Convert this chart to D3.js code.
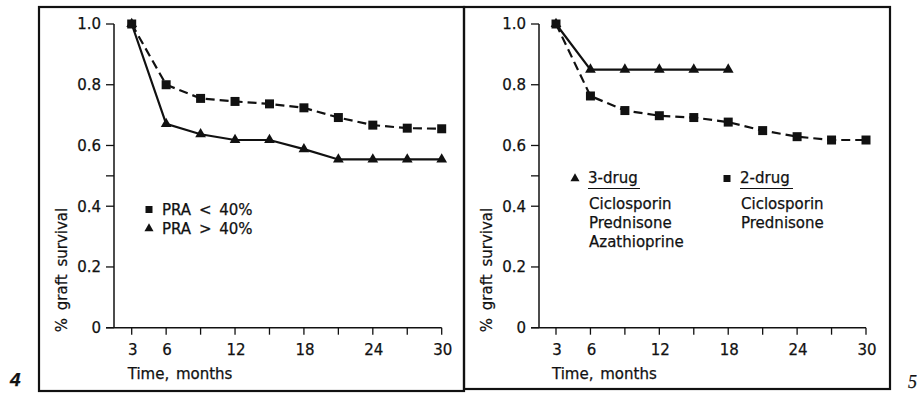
<!DOCTYPE html>
<html>
<head>
<meta charset="utf-8">
<script src="https://cdn.jsdelivr.net/npm/d3@7"></script>
<style>
  html, body { margin: 0; padding: 0; background: #fff; }
  svg { display: block; }
  text { font-family: "DejaVu Sans", sans-serif; fill: #111; stroke: #111; stroke-width: 0.25px; }
</style>
</head>
<body>
<svg id="chart" width="917" height="396"></svg>
<script>
// Data (graft survival by month)
const months = [3, 6, 9, 12, 15, 18, 21, 24, 27, 30];
const praLow = [1.0, 0.80, 0.755, 0.745, 0.737, 0.724, 0.692, 0.667, 0.657, 0.655];
const praHigh = [1.0, 0.671, 0.637, 0.618, 0.618, 0.588, 0.554, 0.554, 0.554, 0.554];
const monthsThreeDrug = [3, 6, 9, 12, 15, 18];
const threeDrug = [1.0, 0.85, 0.85, 0.85, 0.85, 0.85];
const twoDrug = [1.0, 0.763, 0.715, 0.698, 0.692, 0.677, 0.649, 0.629, 0.618, 0.618];

const xTicks = [3, 6, 9, 12, 15, 18, 21, 24, 27, 30];
const xTickLabels = [3, 6, 12, 18, 24, 30];
const yTicks = [0, 0.2, 0.4, 0.5, 0.6, 0.8, 1.0];
const yTickLabels = ["0", "0.2", "0.4", "", "0.6", "0.8", "1.0"];

const yTitle = "% graft survival";
const xTitle = "Time, months";

const svg = d3.select("#chart");

// Frames round the two figures
svg.append("rect")
    .attr("x", 39).attr("y", 7).attr("width", 425).attr("height", 384)
    .attr("fill", "none").attr("stroke", "#111").attr("stroke-width", 2.2);
svg.append("rect")
    .attr("x", 464).attr("y", 7).attr("width", 426).attr("height", 382)
    .attr("fill", "none").attr("stroke", "#111").attr("stroke-width", 2.2);

// Figure numbers
svg.append("text").attr("x", 10).attr("y", 386)
    .style("font-family", "Liberation Sans, sans-serif")
    .style("font-style", "italic").style("font-weight", "bold")
    .style("font-size", "19px").text("4");
svg.append("text").attr("x", 908).attr("y", 388)
    .style("font-family", "Liberation Serif, serif")
    .style("font-style", "italic")
    .style("font-size", "18px").text("5");

// Draws axes for one panel and returns its scales
function drawPanel(axisX, x0, x1) {
    const x = d3.scaleLinear().domain([3, 30]).range([x0, x1]);
    const y = d3.scaleLinear().domain([0, 1]).range([327.7, 24]);
    const g = svg.append("g");

    // y axis
    g.append("line")
        .attr("x1", axisX).attr("x2", axisX)
        .attr("y1", y(0)).attr("y2", y(1))
        .attr("stroke", "#111").attr("stroke-width", 1.5);
    yTicks.forEach((v, i) => {
        g.append("line")
            .attr("x1", axisX - 8).attr("x2", axisX)
            .attr("y1", y(v)).attr("y2", y(v))
            .attr("stroke", "#111").attr("stroke-width", 1.3);
        if (yTickLabels[i]) {
            g.append("text")
                .attr("x", axisX - 13).attr("y", y(v))
                .attr("dy", "0.36em")
                .attr("text-anchor", "end")
                .style("font-size", "15px")
                .text(yTickLabels[i]);
        }
    });

    // x axis
    g.append("line")
        .attr("x1", axisX - 8).attr("x2", x(30))
        .attr("y1", y(0)).attr("y2", y(0))
        .attr("stroke", "#111").attr("stroke-width", 1.5);
    xTicks.forEach(v => {
        g.append("line")
            .attr("x1", x(v)).attr("x2", x(v))
            .attr("y1", y(0)).attr("y2", y(0) + 7)
            .attr("stroke", "#111").attr("stroke-width", 1.3);
    });
    xTickLabels.forEach(v => {
        g.append("text")
            .attr("x", x(v) + 1).attr("y", 355)
            .attr("text-anchor", "middle")
            .style("font-size", "15px")
            .text(v);
    });

    g.append("text")
        .attr("x", x(3) - 4).attr("y", 379)
        .style("font-size", "15px")
        .style("word-spacing", "2px")
        .text(xTitle);

    g.append("text")
        .attr("transform", `translate(${axisX - 47},${270}) rotate(-90)`)
        .attr("text-anchor", "middle")
        .style("font-size", "15px")
        .style("word-spacing", "3px")
        .text(yTitle);

    return { x, y, g };
}

function drawSeries(p, xs, ys, dashed, symbolType, size) {
    const line = d3.line().x((d, i) => p.x(xs[i])).y(d => p.y(d));
    p.g.append("path")
        .datum(ys)
        .attr("d", line)
        .attr("fill", "none")
        .attr("stroke", "#111")
        .attr("stroke-width", 2.2)
        .attr("stroke-dasharray", dashed ? "9,5" : null);
    p.g.selectAll(null)
        .data(ys)
        .enter().append("path")
        .attr("d", d3.symbol().type(symbolType).size(size))
        .attr("transform", (d, i) => `translate(${p.x(xs[i])},${p.y(d)})`)
        .attr("fill", "#111");
}

function legendMark(g, cx, cy, symbolType, size) {
    g.append("path")
        .attr("d", d3.symbol().type(symbolType).size(size))
        .attr("transform", `translate(${cx},${cy})`)
        .attr("fill", "#111");
}

function legendText(g, tx, ty, txt) {
    g.append("text").attr("x", tx).attr("y", ty)
        .style("font-size", "15px").style("word-spacing", "3px")
        .text(txt);
}

// Figure 4
const left = drawPanel(114, 131.7, 441.7);
drawSeries(left, months, praHigh, false, d3.symbolTriangle, 50);
drawSeries(left, months, praLow, true, d3.symbolSquare, 81);
legendMark(left.g, 149, 209.5, d3.symbolSquare, 49);
legendText(left.g, 162, 215, "PRA < 40%");
legendMark(left.g, 149, 228.5, d3.symbolTriangle, 36);
legendText(left.g, 162, 234, "PRA > 40%");

// Figure 5
const right = drawPanel(539, 556, 866);
drawSeries(right, months, twoDrug, true, d3.symbolSquare, 81);
drawSeries(right, monthsThreeDrug, threeDrug, false, d3.symbolTriangle, 50);

legendMark(right.g, 575, 178.5, d3.symbolTriangle, 36);
legendText(right.g, 588, 183, "3-drug");
right.g.append("line").attr("x1", 588).attr("x2", 640)
    .attr("y1", 188.5).attr("y2", 188.5).attr("stroke", "#111").attr("stroke-width", 1.2);
["Ciclosporin", "Prednisone", "Azathioprine"].forEach((t, i) =>
    legendText(right.g, 589, 209 + i * 19, t));

legendMark(right.g, 727, 178.5, d3.symbolSquare, 49);
legendText(right.g, 740, 183, "2-drug");
right.g.append("line").attr("x1", 740).attr("x2", 793)
    .attr("y1", 188.5).attr("y2", 188.5).attr("stroke", "#111").attr("stroke-width", 1.2);
["Ciclosporin", "Prednisone"].forEach((t, i) =>
    legendText(right.g, 741, 209 + i * 19, t));
</script>
</body>
</html>
